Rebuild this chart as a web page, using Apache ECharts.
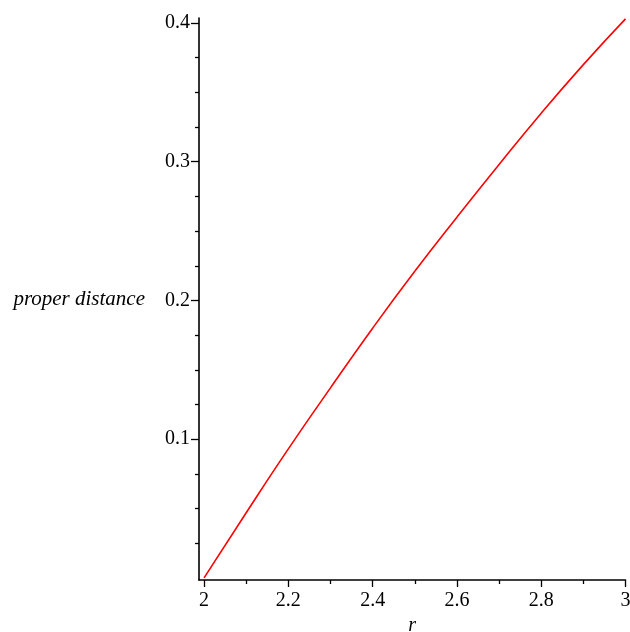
<!DOCTYPE html>
<html>
<head>
<meta charset="utf-8">
<script src="https://cdn.jsdelivr.net/npm/echarts@6/dist/echarts.min.js"></script>
<style>
html,body{margin:0;padding:0;background:#fff;}
#chart{width:630px;height:632px;}
</style>
</head>
<body>
<div id="chart"></div>
<script>
const rValues = [2.0, 2.1, 2.2, 2.3, 2.4, 2.5, 2.6, 2.7, 2.8, 2.9, 3.0];
const distValues = [0.0, 0.047, 0.093, 0.137, 0.180, 0.221, 0.260, 0.298, 0.335, 0.370, 0.403];
const xMajorTicks = [2, 2.2, 2.4, 2.6, 2.8, 3];
const xMinorTicks = [2.1, 2.3, 2.5, 2.7, 2.9];
const yMajorTicks = [0.1, 0.2, 0.3, 0.4];
const yMinorTicks = [0.025, 0.05, 0.075, 0.125, 0.15, 0.175, 0.225, 0.25, 0.275, 0.325, 0.35, 0.375];
const xName = 'r';
const yName = 'proper distance';

const X_MIN = 1.988, X_MAX = 3.0, Y_MIN = -0.0015, Y_MAX = 0.4036;
const serif = '"Liberation Serif", "DejaVu Serif", serif';

const chart = echarts.init(document.getElementById('chart'), null, {renderer: 'canvas'});
chart.setOption({
  animation: false,
  backgroundColor: '#ffffff',
  grid: {left: 199, right: 4.5, top: 18, bottom: 52, outerBoundsMode: 'none', containLabel: false},
  xAxis: [{
    type: 'value', min: X_MIN, max: X_MAX,
    name: xName, nameLocation: 'middle', nameGap: 36,
    nameTextStyle: {fontFamily: serif, fontStyle: 'italic', fontSize: 20, color: '#000'},
    axisLine: {show: true, onZero: false, lineStyle: {color: '#000', width: 1.6}},
    axisTick: {show: true, customValues: xMajorTicks, length: 7, inside: false, lineStyle: {color: '#000', width: 1.3}},
    axisLabel: {show: true, customValues: xMajorTicks, margin: 11, fontFamily: serif, fontSize: 20, color: '#000',
      formatter: v => String(Math.round(v * 10) / 10)},
    splitLine: {show: false}
  }, {
    type: 'value', min: X_MIN, max: X_MAX, position: 'bottom',
    axisLine: {show: false, onZero: false},
    axisTick: {show: true, customValues: xMinorTicks, length: 4, lineStyle: {color: '#000', width: 1.3}},
    axisLabel: {show: false},
    splitLine: {show: false}
  }],
  yAxis: [{
    type: 'value', min: Y_MIN, max: Y_MAX,
    name: yName, nameLocation: 'middle', nameRotate: 0, nameGap: 54,
    nameTextStyle: {fontFamily: serif, fontStyle: 'italic', fontSize: 21, color: '#000', align: 'right', verticalAlign: 'middle'},
    axisLine: {show: true, onZero: false, lineStyle: {color: '#000', width: 1.6}},
    axisTick: {show: true, customValues: yMajorTicks, length: 8, lineStyle: {color: '#000', width: 1.3}},
    axisLabel: {show: true, customValues: yMajorTicks, margin: 9, fontFamily: serif, fontSize: 20, color: '#000',
      formatter: v => (Math.round(v * 10) / 10).toFixed(1)},
    splitLine: {show: false}
  }, {
    type: 'value', min: Y_MIN, max: Y_MAX, position: 'left',
    axisLine: {show: false, onZero: false},
    axisTick: {show: true, customValues: yMinorTicks, length: 4, lineStyle: {color: '#000', width: 1.3}},
    axisLabel: {show: false},
    splitLine: {show: false}
  }],
  series: [{
    type: 'line',
    xAxisIndex: 0, yAxisIndex: 0,
    data: rValues.map((r, i) => [r, distValues[i]]),
    smooth: true,
    showSymbol: false,
    lineStyle: {color: '#ff0000', width: 1.6},
    itemStyle: {color: '#ff0000'}
  }]
});
</script>
</body>
</html>
